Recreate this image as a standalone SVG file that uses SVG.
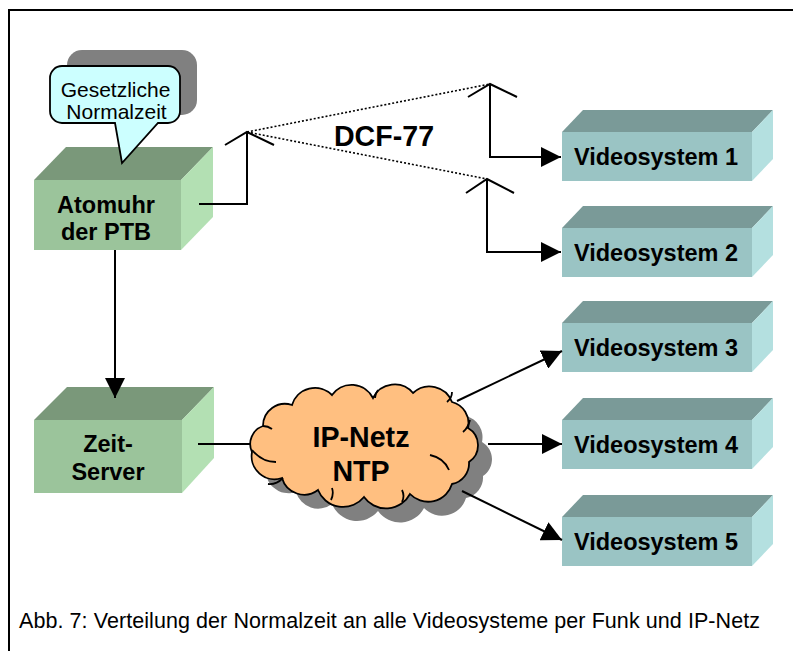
<svg xmlns="http://www.w3.org/2000/svg" width="793" height="651" viewBox="0 0 793 651">
<defs>
<style>
.lbl{font-family:"Liberation Sans",Arial,sans-serif;font-weight:bold;font-size:23.5px;fill:#000;text-anchor:middle}
.big{font-family:"Liberation Sans",Arial,sans-serif;font-weight:bold;font-size:28.6px;fill:#000;text-anchor:middle}
.reg{font-family:"Liberation Sans",Arial,sans-serif;font-size:21px;fill:#000;text-anchor:middle}
.cap{font-family:"Liberation Sans",Arial,sans-serif;font-size:21.5px;fill:#000}
.gf{fill:#9BC49B}.gt{fill:#7A987A}.gs{fill:#B3E0B3}
.tf{fill:#9AC4C4}.tt{fill:#7A9A98}.ts{fill:#B4E0E0}
.ln{fill:none;stroke:#000;stroke-width:2}
.dot{fill:none;stroke:#000;stroke-width:1.6;stroke-dasharray:2 2}
.arr{fill:none;stroke:#000;stroke-width:2;marker-end:url(#ah)}
</style>
<marker id="ah" viewBox="0 0 20 20" markerWidth="20" markerHeight="20" markerUnits="userSpaceOnUse" refX="20" refY="10" orient="auto">
<path d="M0,0 L20,10 L0,20 z" fill="#000"/>
</marker>
<path id="cloudp" d="M252,452 A19,19 0 0 1 263,426 A22,22 0 0 1 292,405 A24,24 0 0 1 332,395 A24,24 0 0 1 373,398 A24,24 0 0 1 413,393 A24,24 0 0 1 452,402 A22,22 0 0 1 468,428 A20,20 0 0 1 469,462 A21,21 0 0 1 452,484 A25,25 0 0 1 410,494 A27,27 0 0 1 364,497 A27,27 0 0 1 318,490 A23,23 0 0 1 282,478 A23,23 0 0 1 252,452 Z"/>
<g id="vsbox">
<polygon class="tt" points="0,0 21,-22 211,-22 190,0"/>
<polygon class="ts" points="190,0 211,-22 211,27 190,49"/>
<rect class="tf" x="0" y="0" width="190" height="49"/>
</g>
</defs>

<rect x="9" y="10" width="800" height="660" fill="#fff" stroke="#000" stroke-width="2"/>

<g id="atomuhr">
<polygon class="gt" points="34,180 66,147 213,147 181,180"/>
<polygon class="gs" points="181,180 213,147 213,217 181,250"/>
<rect class="gf" x="34" y="180" width="147" height="70"/>
<text class="lbl" x="106" y="213">Atomuhr</text>
<text class="lbl" x="106" y="240">der PTB</text>
</g>

<g id="callout">
<rect x="67" y="50" width="130" height="65" rx="15" fill="#808080"/>
<path d="M62,66 H168 A12,12 0 0 1 180,78 V111 A12,12 0 0 1 168,123 H158 L122,163 L115,123 H62 A12,12 0 0 1 50,111 V78 A12,12 0 0 1 62,66 Z" fill="#CCFFFF" stroke="#000" stroke-width="1.8"/>
<text class="reg" x="115.5" y="97">Gesetzliche</text>
<text class="reg" x="116.5" y="119">Normalzeit</text>
</g>

<g id="zeitserver">
<polygon class="gt" points="34,420 67,387 214,387 182,420"/>
<polygon class="gs" points="182,420 214,387 214,458 182,493"/>
<rect class="gf" x="34" y="420" width="148" height="73"/>
<text class="lbl" x="108" y="452">Zeit-</text>
<text class="lbl" x="108" y="480">Server</text>
</g>

<g id="ipnetz">
<use href="#cloudp" transform="translate(14,14)" fill="#808080"/>
<use href="#cloudp" fill="#FFBF80" stroke="#000" stroke-width="1.8"/>
<path d="M252,450 Q262,462 276,462 M283,478 Q276,485 268,484 M332,488 Q334,494 331,500 M402,490 Q405,496 402,502 M430,455 Q444,458 449,470 M463,432 Q468,428 470,420 M447,402 Q452,398 452,392 M375,398 Q375,394 378,390 M263,426 Q268,426 272,429" fill="none" stroke="#000" stroke-width="1.8"/>
<text class="big" x="361" y="447">IP-Netz</text>
<text class="big" x="361" y="481">NTP</text>
</g>

<g id="vs1"><use href="#vsbox" x="562" y="132"/><text class="lbl" x="656" y="164.5">Videosystem 1</text></g>
<g id="vs2"><use href="#vsbox" x="562" y="228"/><text class="lbl" x="656" y="260.5">Videosystem 2</text></g>
<g id="vs3"><use href="#vsbox" x="562" y="323"/><text class="lbl" x="656" y="355.5">Videosystem 3</text></g>
<g id="vs4"><use href="#vsbox" x="562" y="420"/><text class="lbl" x="656" y="452.5">Videosystem 4</text></g>
<g id="vs5"><use href="#vsbox" x="562" y="517"/><text class="lbl" x="656" y="549.5">Videosystem 5</text></g>

<text id="dcf" class="big" x="384" y="146">DCF-77</text>

<g id="connectors">
<polyline class="ln" points="199,204 247,204 247,132"/>
<polyline class="ln" points="225,145 247,132 274,145"/>
<line class="dot" x1="247" y1="132" x2="490" y2="84"/>
<line class="dot" x1="247" y1="132" x2="487" y2="179"/>
<polyline class="ln" points="468,97 490,84 517,97"/>
<polyline class="arr" points="490,84 490,157 561,157"/>
<polyline class="ln" points="466,193 487,179 514,193"/>
<polyline class="arr" points="487,179 487,252 561,252"/>
<line class="arr" x1="115" y1="250" x2="115" y2="398"/>
<line class="ln" x1="198" y1="444" x2="250" y2="444"/>
<line class="arr" x1="457" y1="401" x2="562" y2="351"/>
<line class="arr" x1="488" y1="444" x2="562" y2="444"/>
<line class="arr" x1="462" y1="491" x2="562" y2="540"/>
</g>

<text class="cap" x="19" y="628" textLength="741" lengthAdjust="spacing">Abb. 7: Verteilung der Normalzeit an alle Videosysteme per Funk und IP-Netz</text>
</svg>
